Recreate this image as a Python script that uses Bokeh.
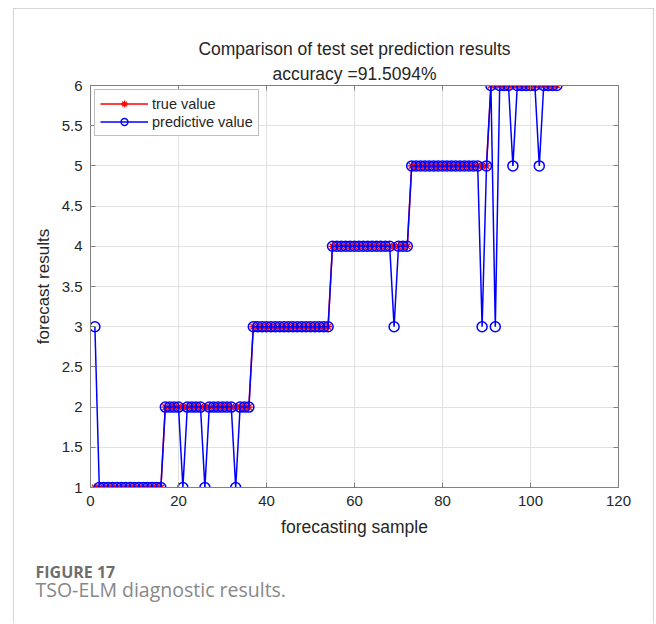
from bokeh.plotting import figure
from bokeh.models import (Range1d, LinearAxis, Title, Legend, LegendItem,
                          FixedTicker)
from bokeh.embed import file_html
from bokeh.resources import INLINE

# ---------------- data ----------------
samples = list(range(1, 107))
true_value = [
    1, 1, 1, 1, 1, 1, 1, 1, 1, 1, 1, 1, 1, 1, 1, 1,
    2, 2, 2, 2, 2, 2, 2, 2, 2, 2, 2, 2, 2, 2, 2, 2, 2, 2, 2, 2,
    3, 3, 3, 3, 3, 3, 3, 3, 3, 3, 3, 3, 3, 3, 3, 3, 3, 3,
    4, 4, 4, 4, 4, 4, 4, 4, 4, 4, 4, 4, 4, 4, 4, 4, 4, 4,
    5, 5, 5, 5, 5, 5, 5, 5, 5, 5, 5, 5, 5, 5, 5, 5, 5, 5,
    6, 6, 6, 6, 6, 6, 6, 6, 6, 6, 6, 6, 6, 6, 6, 6,
]
predictive_value = [
    3, 1, 1, 1, 1, 1, 1, 1, 1, 1, 1, 1, 1, 1, 1, 1,
    2, 2, 2, 2, 1, 2, 2, 2, 2, 1, 2, 2, 2, 2, 2, 2, 1, 2, 2, 2,
    3, 3, 3, 3, 3, 3, 3, 3, 3, 3, 3, 3, 3, 3, 3, 3, 3, 3,
    4, 4, 4, 4, 4, 4, 4, 4, 4, 4, 4, 4, 4, 4, 3, 4, 4, 4,
    5, 5, 5, 5, 5, 5, 5, 5, 5, 5, 5, 5, 5, 5, 5, 5, 3, 5,
    6, 3, 6, 6, 6, 5, 6, 6, 6, 6, 6, 5, 6, 6, 6, 6,
]
x_ticks = [0, 20, 40, 60, 80, 100, 120]
y_ticks = [1, 1.5, 2, 2.5, 3, 3.5, 4, 4.5, 5, 5.5, 6]
title_line1 = "Comparison of test set prediction results"
title_line2 = "accuracy =91.5094%"
x_label = "forecasting sample"
y_label = "forecast results"
caption_head = "FIGURE 17"
caption_text = "TSO-ELM diagnostic results."

FONT = "Liberation Sans"
TXT = "#262626"
AX = "#808080"

p = figure(width=641, height=615,
           x_range=Range1d(0, 120), y_range=Range1d(1, 6),
           output_backend="svg", toolbar_location=None,
           min_border_left=76, min_border_top=76,
           min_border_right=37, min_border_bottom=137,
           margin=(8, 0, 0, 13),
           styles={"border-left": "1px solid #d4d4d4",
                   "border-top": "1px solid #d4d4d4",
                   "border-right": "1px solid #d4d4d4"})
p.background_fill_color = "white"
p.border_fill_color = "white"
p.outline_line_color = AX
p.outline_line_width = 1

for ax in (p.xaxis[0], p.yaxis[0]):
    ax.axis_line_color = AX
    ax.major_tick_line_color = AX
    ax.major_tick_in = 5
    ax.major_tick_out = 0
    ax.minor_tick_line_color = None
    ax.major_label_text_font = FONT
    ax.major_label_text_font_size = "15px"
    ax.major_label_text_color = TXT
    ax.major_label_standoff = 8
    ax.axis_label_text_font = FONT
    ax.axis_label_text_font_size = "17.5px"
    ax.axis_label_text_color = TXT
    ax.axis_label_text_font_style = "normal"
    ax.axis_label_standoff = 8

p.xaxis[0].ticker = FixedTicker(ticks=x_ticks)
p.yaxis[0].ticker = FixedTicker(ticks=y_ticks)
p.xaxis[0].axis_label = x_label
p.yaxis[0].axis_label = y_label
p.yaxis[0].axis_label_text_font_size = "17px"
p.yaxis[0].axis_label_standoff = 6

p.grid.grid_line_color = "#e2e2e2"
p.xgrid.ticker = FixedTicker(ticks=x_ticks)
p.ygrid.ticker = FixedTicker(ticks=y_ticks)

# box ticks on top/right (no labels drawn)
top_ax = LinearAxis(ticker=FixedTicker(ticks=x_ticks))
right_ax = LinearAxis(ticker=FixedTicker(ticks=y_ticks))
for ax in (top_ax, right_ax):
    ax.axis_line_color = AX
    ax.major_tick_line_color = AX
    ax.major_tick_in = 5
    ax.major_tick_out = 0
    ax.minor_tick_line_color = None
    ax.major_label_text_font_size = "1px"
    ax.major_label_text_color = None
    ax.major_label_standoff = 0
p.add_layout(top_ax, "above")
p.add_layout(right_ax, "right")

p.add_layout(Title(text=title_line2, align="center", text_font=FONT,
                   text_font_size="17.5px", text_font_style="normal",
                   text_color=TXT, standoff=4), "above")
p.add_layout(Title(text=title_line1, align="center", text_font=FONT,
                   text_font_size="17.5px", text_font_style="normal",
                   text_color=TXT, standoff=2), "above")

# invisible spacer between the x axis and the caption
spacer = LinearAxis(ticker=FixedTicker(ticks=[60]))
spacer.axis_line_color = None
spacer.major_tick_line_color = "white"
spacer.minor_tick_line_color = None
spacer.major_tick_in = 0
spacer.major_tick_out = 19
spacer.minor_tick_out = 0
spacer.major_label_standoff = 0
spacer.major_label_text_font_size = "1px"
spacer.major_label_text_color = None
p.add_layout(spacer, "below")

# caption below the axis
p.add_layout(Title(text=caption_head, align="left", offset=-55,
                   text_font="Open Sans", text_font_style="bold",
                   text_font_size="16px", text_color="#6e6e6e",
                   standoff=0), "below")
p.add_layout(Title(text=caption_text, align="left", offset=-55,
                   text_font="Open Sans", text_font_style="normal",
                   text_font_size="19.5px", text_color="#878787",
                   standoff=-18), "below")

r_line = p.line(samples, true_value, line_color="#ff0000", line_width=1.5)
r_star = p.scatter(samples, true_value, marker="asterisk", size=8,
                   line_color="#ff0000", line_width=1.3)
b_line = p.line(samples, predictive_value, line_color="#0000ff", line_width=1.5)
b_circ = p.scatter(samples, predictive_value, marker="circle", size=10,
                   fill_color=None, line_color="#0000ff", line_width=1.5)

legend = Legend(items=[
    LegendItem(label="true value", renderers=[r_line, r_star]),
    LegendItem(label="predictive value", renderers=[b_line, b_circ]),
], location="top_left")
legend.margin = 4
legend.padding = 5
legend.spacing = 1
legend.glyph_width = 48
legend.glyph_height = 17
legend.label_height = 17
legend.label_standoff = 4
legend.label_text_font = FONT
legend.label_text_font_size = "14.5px"
legend.label_text_color = TXT
legend.border_line_color = AX
legend.border_line_width = 1
legend.background_fill_color = "white"
legend.background_fill_alpha = 1
p.add_layout(legend)

open("out.html", "w").write(file_html(p, INLINE))
